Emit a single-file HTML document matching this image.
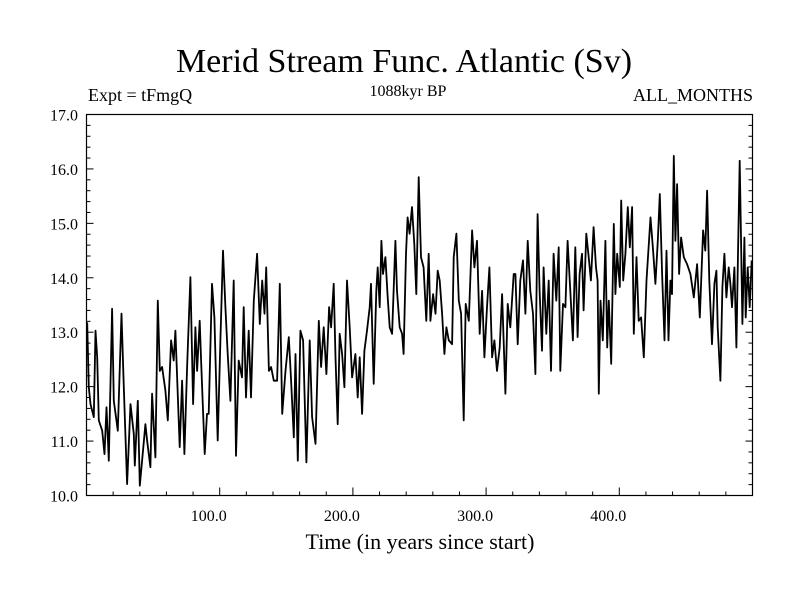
<!DOCTYPE html>
<html><head><meta charset="utf-8"><style>
html,body{margin:0;padding:0;background:#fff;width:800px;height:600px;overflow:hidden}
svg text{font-family:"Liberation Serif",serif;fill:#000}
</style></head><body>
<svg id="chart" width="800" height="600" viewBox="0 0 800 600" xmlns="http://www.w3.org/2000/svg">
<rect width="800" height="600" fill="#fff"/>
<text x="404" y="72" font-size="34" text-anchor="middle">Merid Stream Func. Atlantic (Sv)</text>
<text x="88" y="101" font-size="18">Expt = tFmgQ</text>
<text x="408" y="96" font-size="16" text-anchor="middle">1088kyr BP</text>
<text x="753" y="101" font-size="18" text-anchor="end">ALL_MONTHS</text>
<text x="420" y="549" font-size="22" text-anchor="middle">Time (in years since start)</text>
<g id="axes"></g>
<g id="series"></g>
<rect x="86.5" y="114.5" width="666" height="381" fill="none" stroke="#000" stroke-width="1.2"/>
</svg>
<script>
const years = [0.5,1.75,3,5.5,6.75,8,9.25,11.75,13.5,15,16.75,19.25,20.5,23.5,26.25,28,30.5,33,35.5,36.25,38.5,40,41.75,44.25,45.5,48,49.25,51.75,53.5,55,56.75,59.25,61,63.5,65.5,66.75,70,71.75,73.5,75.5,78,80,81.75,83,85,86,88.75,90.5,91.75,94.25,96,98.5,100.5,102.5,104.25,106,108,110.5,112.25,114.25,116.75,118,119.75,121.75,123.5,125.6,128.1,130.1,131.9,133.6,134.9,136.9,138.6,140.6,143.1,145.1,146.9,149.4,151.9,153.6,155.6,156.9,158.6,160.6,162.6,165.1,167.6,169.4,171.9,174.4,176.1,178.1,180.1,182.1,183.6,185.6,186.9,188.6,190.1,191.9,193.6,195.6,197.6,199.4,201.9,203.6,205.1,206.9,208.6,210.6,212.6,213.6,215.6,217.6,218.6,220.1,221.4,222.6,224.4,226.1,227.6,229.4,231.9,233.1,235.1,236.9,238.1,239.9,241.1,242.6,244.4,246.1,247.6,249.4,251.1,253.1,255.1,256.9,258.2,260.2,262,263.7,265.2,267,268.7,270.2,272,274.5,275.7,277.7,279.5,281.2,283.2,284.7,287,289.5,291.2,293.2,295.2,297,298.7,300.7,302.5,304.5,306.2,308.2,310.2,312,314.5,316.2,318.2,320.7,322,323.7,325.7,327.7,329.5,331.2,333.2,335.2,337,338.7,340.2,342,343.2,345.2,347,348.7,350.7,352.7,354.5,355.7,357.7,359.5,361.2,363.2,365.2,367,368.7,370.2,372,373.2,375.2,377,378.7,380.7,382.5,383.7,384.6,385.9,387.6,389.6,390.9,392.1,393.9,395.9,397.1,398.4,400.4,401.4,402.9,404.6,406.4,407.9,409.6,410.9,412.9,414.6,416.4,418.4,420.4,423.4,425.4,427.1,428.9,430.4,432.1,433.9,435.4,436.9,438.4,439.6,440.9,442.1,443.4,444.9,446.4,448.4,450.9,453.4,455.9,458.4,460.4,462.9,464.6,465.9,467.6,469.6,471.4,472.9,473.9,475.9,477.4,478.9,480.4,482.1,483.4,484.6,486.4,487.9,489.1,490.4,491.4,492.4,493.9,494.9,496.4,497.9,499.4];
const values = [13.18,11.99,11.68,11.44,13.03,12.54,11.38,11.19,10.76,11.62,10.64,13.43,11.74,11.19,13.34,11.99,10.21,11.68,11.13,10.55,11.74,10.18,10.64,11.31,11.01,10.52,11.87,10.70,13.58,12.29,12.36,11.93,11.38,12.85,12.48,13.03,10.89,12.11,10.76,12.36,14.01,11.68,13.09,12.29,13.21,12.48,10.76,11.50,11.50,13.89,13.27,11.01,12.85,14.50,13.46,12.60,11.74,13.95,10.73,12.48,12.17,13.46,11.80,13.03,11.80,13.58,14.44,13.15,13.95,13.34,14.19,12.29,12.36,12.11,12.11,13.89,11.50,12.29,12.91,12.11,11.07,12.60,10.64,13.03,12.85,10.61,12.85,11.44,10.95,13.21,12.36,13.09,12.23,13.46,13.09,13.89,12.54,11.31,12.97,12.60,11.99,13.95,13.09,12.17,12.60,11.80,12.54,11.50,12.66,13.03,13.46,13.89,12.05,13.76,14.19,13.46,14.68,14.07,14.38,13.64,13.09,12.97,14.68,13.76,13.09,12.97,12.60,14.44,15.11,14.81,15.30,14.62,13.70,15.85,14.38,14.19,13.21,14.44,13.21,13.70,13.34,14.13,13.95,13.34,12.60,13.09,12.85,12.78,14.38,14.81,13.58,13.34,11.38,13.52,13.21,14.87,14.19,14.68,12.97,13.76,12.54,13.46,14.19,12.54,12.85,12.29,12.72,13.70,11.87,13.52,13.09,14.07,14.07,12.78,13.95,14.32,13.34,14.68,13.76,13.34,12.23,15.17,13.76,12.66,14.19,12.97,13.95,12.29,14.44,13.58,14.56,12.29,13.52,13.46,14.68,13.76,12.85,14.56,12.91,14.07,14.44,13.40,14.81,14.38,13.95,14.93,14.19,13.95,11.87,13.58,12.85,14.68,12.72,13.58,12.42,14.99,13.70,14.44,13.83,15.42,13.95,14.44,15.30,14.56,15.30,12.97,14.38,13.21,13.27,12.54,13.95,15.11,14.50,13.89,14.68,15.54,14.07,12.85,14.50,12.85,13.95,13.70,16.24,14.68,15.72,14.07,14.74,14.38,14.25,14.07,13.64,14.25,13.27,14.87,14.50,15.60,13.95,12.78,13.89,14.13,13.09,12.11,13.83,14.44,13.64,14.19,13.89,13.46,14.19,12.72,14.44,16.15,14.74,13.15,14.74,13.27,14.19,13.46,14.32];
const yTickLabels = ["10.0","11.0","12.0","13.0","14.0","15.0","16.0","17.0"];
const xTickLabels = ["100.0","200.0","300.0","400.0"];

const X0=86.5, X1=752.5, Y0=495.5, Y1=114.5;
const xScale = t => X0 + (t-0)/(500-0)*(X1-X0);
const yScale = v => Y0 - (v-10)/(17-10)*(Y0-Y1);
const NS="http://www.w3.org/2000/svg";
const axes=document.getElementById('axes');
function mk(tag, attrs, parent){const e=document.createElementNS(NS,tag);for(const k in attrs)e.setAttribute(k,attrs[k]);parent.appendChild(e);return e;}
for(let i=0;i<=35;i++){
  const v=10+i*0.2, y=yScale(v), major=(i%5===0), len=major?7:4;
  const l=mk('line',{x1:X0,x2:X0+len,y1:y,y2:y,stroke:'#000','stroke-width':1},axes);
  
  
  const r=mk('line',{x1:X1,x2:X1-len,y1:y,y2:y,stroke:'#000','stroke-width':1},axes);
  
  
}
yTickLabels.forEach(s=>{
  const t=mk('text',{x:78,y:yScale(parseFloat(s))+6,'font-size':16,'text-anchor':'end'},axes);
  t.textContent=s;
  
  
});
for(let yr=20;yr<500;yr+=20){
  const x=xScale(yr), major=(yr%100===0), len=major?8:4;
  const l=mk('line',{x1:x,x2:x,y1:Y0,y2:Y0-len,stroke:'#000','stroke-width':1},axes);
  
  
}
xTickLabels.forEach(s=>{
  const t=mk('text',{x:xScale(parseFloat(s))-11,y:521,'font-size':16,'text-anchor':'middle'},axes);
  t.textContent=s;
  
  
});
const d=years.map((t,i)=>(i?'L':'M')+xScale(t).toFixed(1)+','+yScale(values[i]).toFixed(1)).join('');
const p=mk('path',{d:d,fill:'none',stroke:'#000','stroke-width':1.8,'stroke-linejoin':'round'},document.getElementById('series'));


</script>
</body></html>
